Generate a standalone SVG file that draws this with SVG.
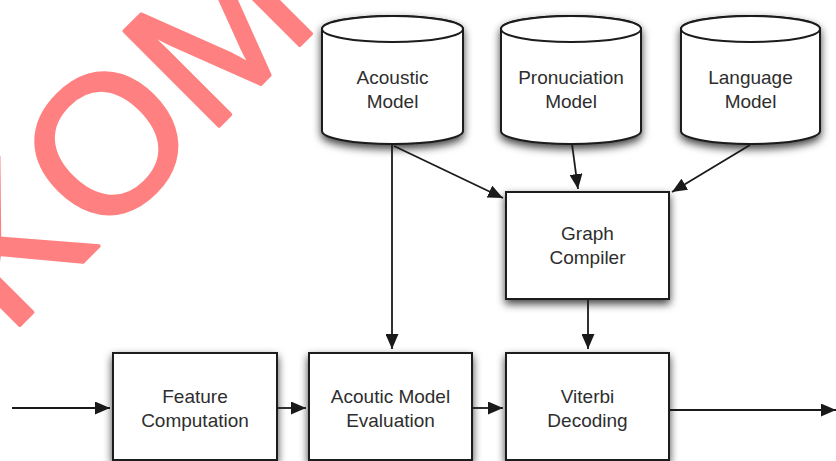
<svg xmlns="http://www.w3.org/2000/svg" width="836" height="461" viewBox="0 0 836 461">
  <style>
    .shape { fill: #ffffff; stroke: #1a1a1a; stroke-width: 2; }
    .label { font-family: "Liberation Sans", Arial, Helvetica, sans-serif; font-size: 19px; fill: #2e2e2e; text-anchor: middle; }
    .conn { stroke: #1a1a1a; stroke-width: 1.8; fill: none; marker-end: url(#arrow); }
    .mark { font-family: "Liberation Sans", Arial, Helvetica, sans-serif; font-size: 195px; fill: #ff8080; stroke: #ff8080; stroke-width: 3.5; stroke-linejoin: round; }
  </style>
  <defs>
    <filter id="shadow" x="-20%" y="-20%" width="140%" height="150%">
      <feDropShadow dx="0" dy="4" stdDeviation="4.5" flood-color="#000000" flood-opacity="0.75"/>
    </filter>
    <marker id="arrow" markerUnits="userSpaceOnUse" markerWidth="15" markerHeight="13" refX="15" refY="6.5" orient="auto">
      <path d="M0,0 L15,6.5 L0,13 Z" fill="#1a1a1a"/>
    </marker>
  </defs>

  <rect width="836" height="461" fill="#ffffff"/>

  <!-- model stores -->
  <g id="acoustic-model" filter="url(#shadow)">
    <path class="shape" d="M322,29 L322,131 A70.5,13 0 0 0 463,131 L463,29 A70.5,13 0 0 0 322,29 Z"/>
    <ellipse class="shape" cx="392.5" cy="29" rx="70.5" ry="13"/>
  </g>
  <g id="acoustic-model-text">
    <text class="label" x="392.5" y="84">Acoustic</text>
    <text class="label" x="392.5" y="108">Model</text>
  </g>

  <g id="pronunciation-model" filter="url(#shadow)">
    <path class="shape" d="M501,29 L501,131 A70,13 0 0 0 641,131 L641,29 A70,13 0 0 0 501,29 Z"/>
    <ellipse class="shape" cx="571" cy="29" rx="70" ry="13"/>
  </g>
  <g id="pronunciation-model-text">
    <text class="label" x="571" y="84">Pronuciation</text>
    <text class="label" x="571" y="108">Model</text>
  </g>

  <g id="language-model" filter="url(#shadow)">
    <path class="shape" d="M681,29 L681,131 A69.5,13 0 0 0 820,131 L820,29 A69.5,13 0 0 0 681,29 Z"/>
    <ellipse class="shape" cx="750.5" cy="29" rx="69.5" ry="13"/>
  </g>
  <g id="language-model-text">
    <text class="label" x="750.5" y="84">Language</text>
    <text class="label" x="750.5" y="108">Model</text>
  </g>

  <!-- processing blocks -->
  <g id="graph-compiler">
    <rect class="shape" x="506" y="192" width="163" height="107" filter="url(#shadow)"/>
    <text class="label" x="587.5" y="240">Graph</text>
    <text class="label" x="587.5" y="264">Compiler</text>
  </g>

  <g id="feature-computation">
    <rect class="shape" x="113" y="353" width="164" height="107" filter="url(#shadow)"/>
    <text class="label" x="195" y="403">Feature</text>
    <text class="label" x="195" y="427">Computation</text>
  </g>

  <g id="acoustic-model-evaluation">
    <rect class="shape" x="309" y="353" width="163" height="107" filter="url(#shadow)"/>
    <text class="label" x="390.5" y="403">Acoutic Model</text>
    <text class="label" x="390.5" y="427">Evaluation</text>
  </g>

  <g id="viterbi-decoding">
    <rect class="shape" x="506" y="353" width="163" height="107" filter="url(#shadow)"/>
    <text class="label" x="587.5" y="403">Viterbi</text>
    <text class="label" x="587.5" y="427">Decoding</text>
  </g>

  <!-- connectors -->
  <g id="connectors">
    <line class="conn" x1="12" y1="408" x2="110" y2="408"/>
    <line class="conn" x1="277" y1="408" x2="306" y2="408"/>
    <line class="conn" x1="472" y1="408" x2="503" y2="408"/>
    <line class="conn" x1="669" y1="410" x2="836" y2="410"/>
    <line class="conn" x1="392" y1="144" x2="392" y2="349"/>
    <line class="conn" x1="588" y1="299" x2="588" y2="349"/>
    <line class="conn" x1="394" y1="146" x2="503" y2="198"/>
    <line class="conn" x1="572" y1="144" x2="578" y2="189"/>
    <line class="conn" x1="750" y1="145" x2="672" y2="192"/>
  </g>

  <!-- overlay lettering -->
  <text class="mark" transform="translate(8.6,336.4) rotate(-45)" x="0" y="0">KOM</text>
</svg>
